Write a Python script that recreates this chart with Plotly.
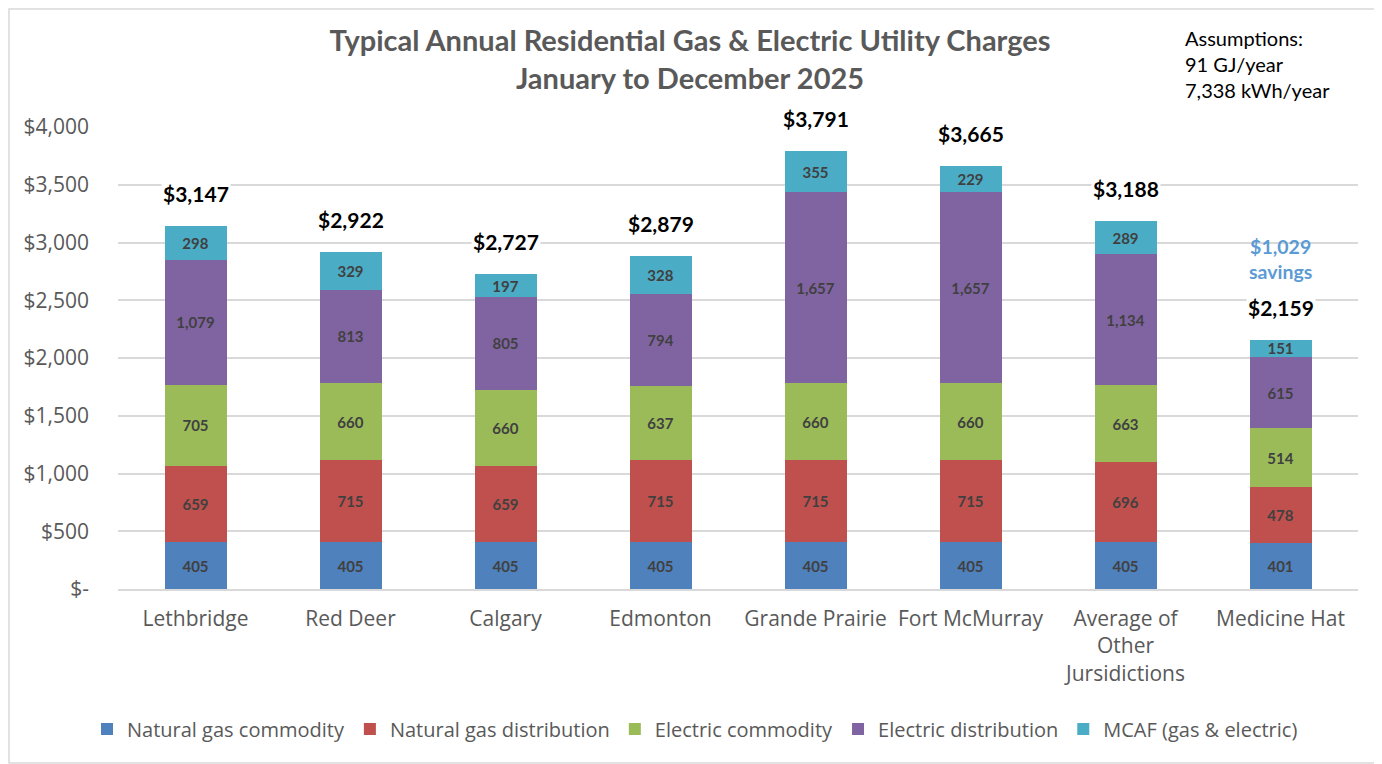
import plotly.graph_objects as go

categories = ["Lethbridge", "Red Deer", "Calgary", "Edmonton", "Grande Prairie",
              "Fort McMurray", "Average of<br>Other<br>Jursidictions", "Medicine Hat"]
gas_commodity = [405, 405, 405, 405, 405, 405, 405, 401]
gas_distribution = [659, 715, 659, 715, 715, 715, 696, 478]
elec_commodity = [705, 660, 660, 637, 660, 660, 663, 514]
elec_distribution = [1079, 813, 805, 794, 1657, 1657, 1134, 615]
mcaf = [298, 329, 197, 328, 355, 229, 289, 151]
totals = [3147, 2922, 2727, 2879, 3791, 3665, 3188, 2159]
savings = 1029

y_ticks = [0, 500, 1000, 1500, 2000, 2500, 3000, 3500, 4000]
y_ticktext = ["$-", "$500", "$1,000", "$1,500", "$2,000", "$2,500", "$3,000", "$3,500", "$4,000"]

series = [
    ("Natural gas commodity", gas_commodity, "#4F81BD"),
    ("Natural gas distribution", gas_distribution, "#C0504D"),
    ("Electric commodity", elec_commodity, "#9BBB59"),
    ("Electric distribution", elec_distribution, "#8064A2"),
    ("MCAF (gas & electric)", mcaf, "#4BACC6"),
]

BOLDF = "Lato, sans-serif"
UIF = "'Open Sans', sans-serif"

# page has an 8px body margin: figure is drawn 8px right/down of the window origin
W, H = 1374, 756
L, R, T, B = 110, 24, 119, 175
PW, PH = W - L - R, H - T - B

fig = go.Figure()
for name, vals, color in series:
    fig.add_trace(go.Bar(
        name=name, x=categories, y=vals, marker=dict(color=color, line=dict(width=0)),
        text=[f"{v:,}" for v in vals], textposition="inside", insidetextanchor="middle",
        textangle=0, constraintext="none",
        textfont=dict(family=BOLDF, size=15, color="#404040", weight="bold"),
        hoverinfo="skip",
    ))

for c, t in zip(categories, totals):
    fig.add_annotation(x=c, y=t, text=f"<b>${t:,}</b>", showarrow=False,
                       yanchor="bottom", yshift=18, bgcolor="white",
                       font=dict(family=BOLDF, size=21, color="black"))

fig.add_annotation(x=categories[-1], y=totals[-1], text=f"<b>${savings:,}<br>savings</b>",
                   showarrow=False, yanchor="bottom", yshift=55,
                   font=dict(family=BOLDF, size=19.5, color="#5B9BD5"))

fig.add_annotation(xref="paper", yref="paper", x=(1183 - 8 - L) / PW, y=1 + (T - (24 - 8)) / PH,
                   xanchor="left", yanchor="top", align="left", showarrow=False,
                   text="Assumptions:<br>91 GJ/year<br>7,338 kWh/year",
                   font=dict(family=BOLDF, size=20, color="black"))

fig.add_shape(type="rect", xref="paper", yref="paper",
              x0=-(L - 1) / PW, x1=1 + (R - 1) / PW, y0=-(B - 1) / PH, y1=1 + (T - 1) / PH,
              line=dict(color="#D9D9D9", width=1.5), fillcolor="rgba(0,0,0,0)")

fig.update_layout(
    barmode="stack", bargap=0.6,
    width=W, height=H,
    margin=dict(l=L, r=R, t=T, b=B, autoexpand=False),
    paper_bgcolor="white", plot_bgcolor="white",
    title=dict(text="<b>Typical Annual Residential Gas & Electric Utility Charges<br>January to December 2025</b>",
               x=(690 - 8) / W, xanchor="center", y=1 - 43 / H, yanchor="middle",
               font=dict(family=BOLDF, size=29, color="#595959")),
    font=dict(family=UIF, color="#595959"),
    legend=dict(orientation="h", xref="container", yref="container",
                x=(695 - 8) / W, xanchor="center", y=1 - (729 - 8) / H, yanchor="middle",
                font=dict(family=UIF, size=20, color="#595959"), traceorder="normal",
                itemwidth=30),
    showlegend=True,
)
fig.update_xaxes(tickfont=dict(family=UIF, size=21, color="#595959"), showgrid=False,
                 showline=True, linecolor="#D9D9D9", linewidth=1.5, ticks="",
                 ticklabelstandoff=10)
fig.update_yaxes(range=[0, 4000], tickvals=y_ticks, ticktext=y_ticktext,
                 tickfont=dict(family=UIF, size=21, color="#595959"),
                 showgrid=True, gridcolor="#D9D9D9", gridwidth=1.5, zeroline=False,
                 ticks="", ticklabelstandoff=28)

fig.write_html("out.html")
